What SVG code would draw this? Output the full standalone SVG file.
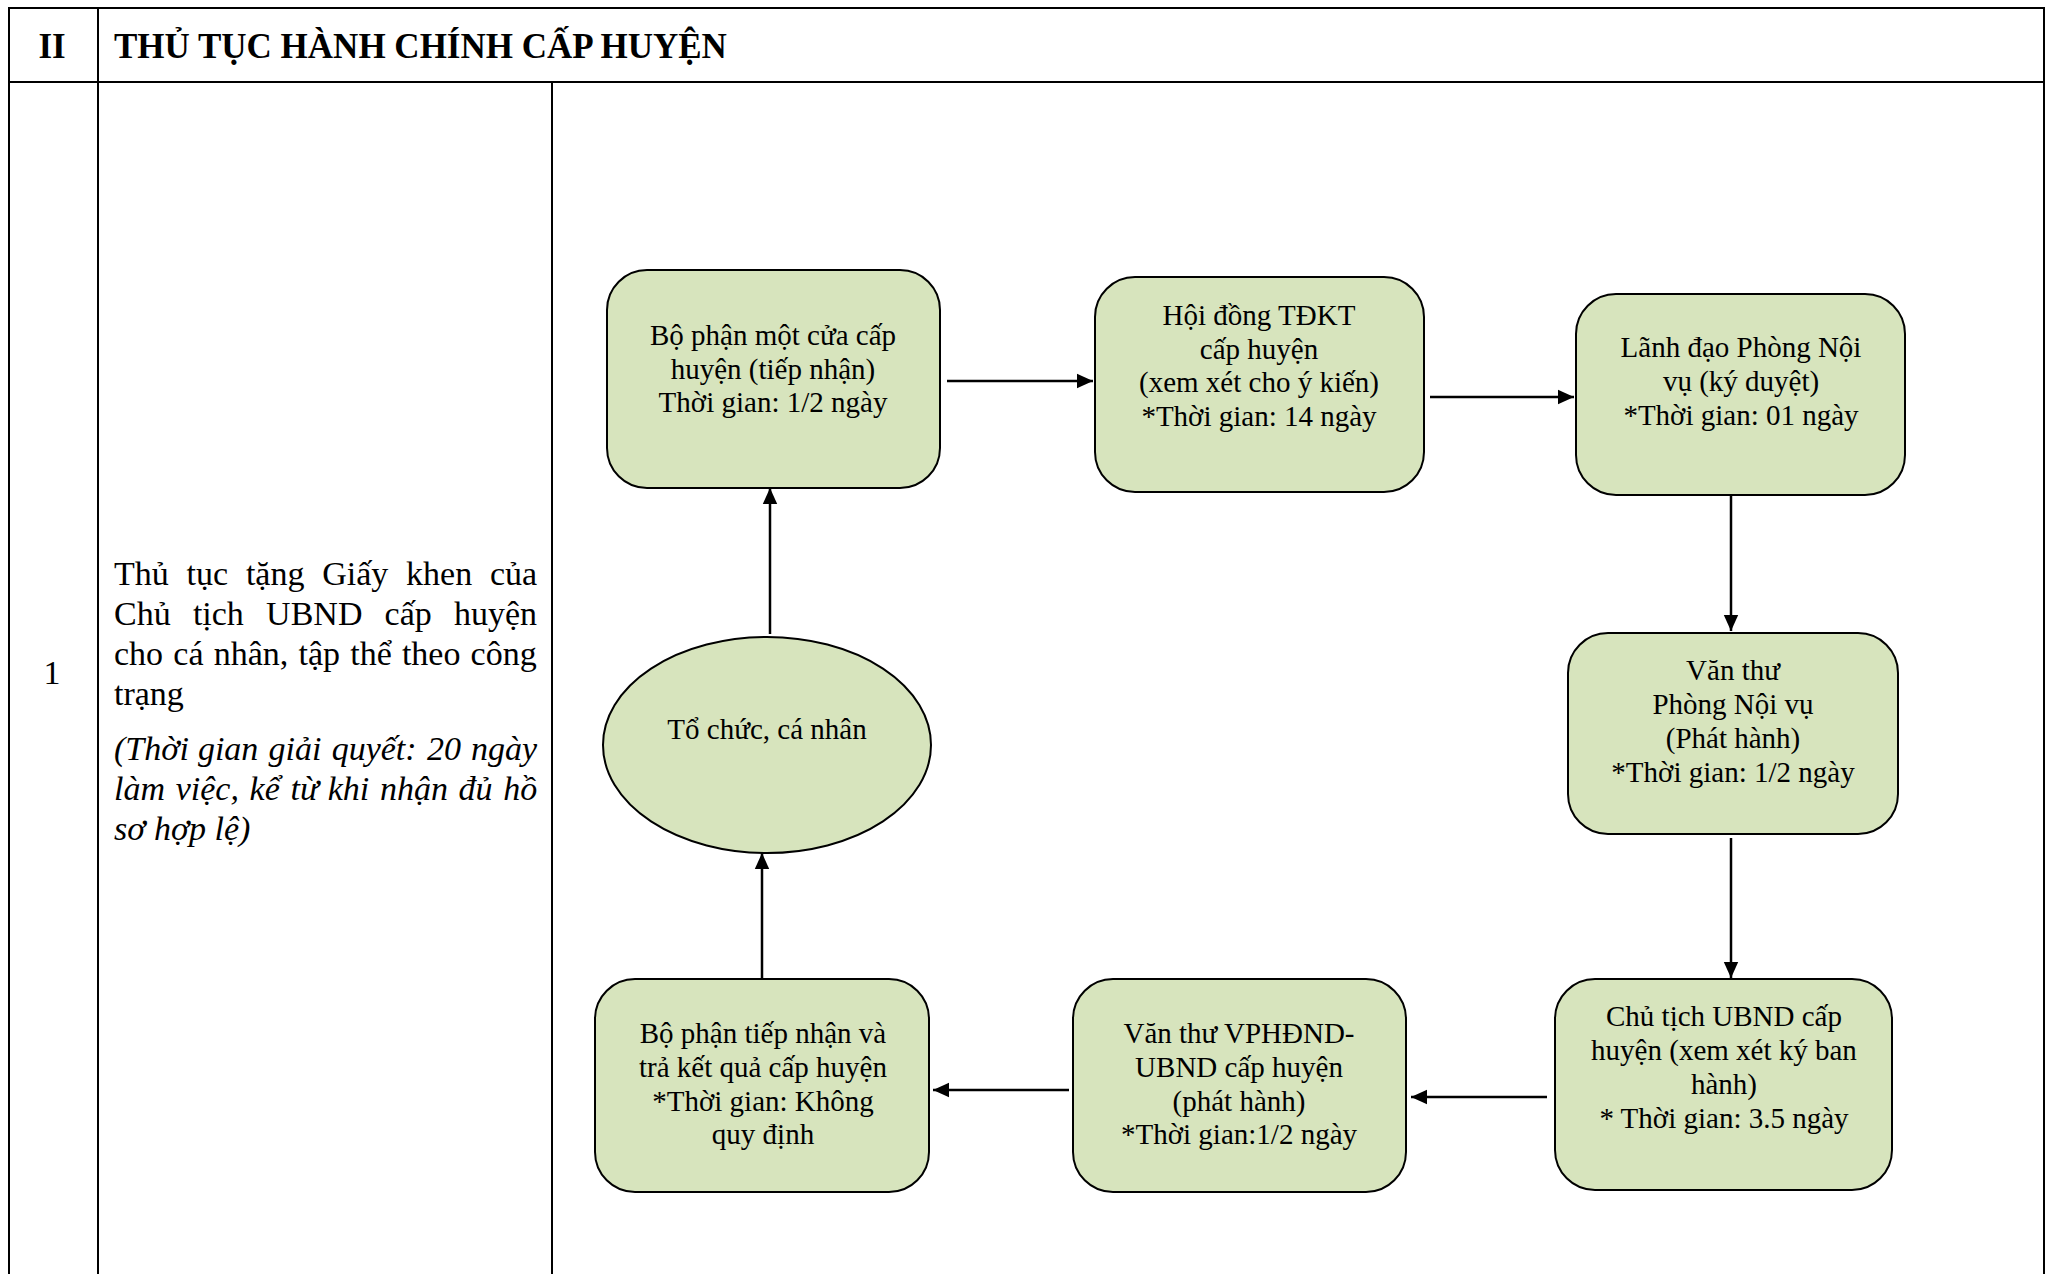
<svg xmlns="http://www.w3.org/2000/svg" width="2052" height="1274" viewBox="0 0 2052 1274">
<defs>
<style>
.t{font-family:"Liberation Serif","Times New Roman",serif;fill:#000}
.h{font-size:35px;font-weight:bold}
.l{font-size:34px}
.li{font-size:34px;font-style:italic}
.n{font-size:29px;text-anchor:middle}
.box{fill:#d7e4bd;stroke:#000;stroke-width:2}
.grid{stroke:#000;stroke-width:2;fill:none}
.c{stroke:#000;stroke-width:2.5;fill:none;marker-end:url(#ah)}
</style>
<marker id="ah" viewBox="0 0 10 10" refX="10" refY="5" markerWidth="6.4" markerHeight="6.4" orient="auto" markerUnits="strokeWidth">
<path d="M0,0.5 L10,5 L0,9.5 z" fill="#000"/>
</marker>
</defs>
<rect width="2052" height="1274" fill="#fff"/>
<g id="table">
<path class="grid" d="M9,1274 V8 H2044 V1274 M9,82 H2044 M98,8 V1274 M552,82 V1274"/>
<text class="t h" x="52" y="58" text-anchor="middle">II</text>
<text class="t h" x="114" y="58">THỦ TỤC HÀNH CHÍNH CẤP HUYỆN</text>
<text class="t l" x="52" y="684" text-anchor="middle">1</text>
<text class="t l" y="585"><tspan x="114">Thủ</tspan><tspan x="186.6">tục</tspan><tspan x="245.9">tặng</tspan><tspan x="322.2">Giấy</tspan><tspan x="406.1">khen</tspan><tspan x="490">của</tspan></text>
<text class="t l" y="625"><tspan x="114">Chủ</tspan><tspan x="192.9">tịch</tspan><tspan x="266.1">UBND</tspan><tspan x="384.6">cấp</tspan><tspan x="454">huyện</tspan></text>
<text class="t l" y="665"><tspan x="114">cho</tspan><tspan x="173.3">cá</tspan><tspan x="213.7">nhân,</tspan><tspan x="298.5">tập</tspan><tspan x="350.2">thể</tspan><tspan x="401.9">theo</tspan><tspan x="470.6">công</tspan></text>
<text class="t l" x="114" y="705">trạng</text>
<text class="t li" y="760"><tspan x="114">(Thời</tspan><tspan x="197.9">gian</tspan><tspan x="268.6">giải</tspan><tspan x="331.7">quyết:</tspan><tspan x="426.9">20</tspan><tspan x="471.1">ngày</tspan></text>
<text class="t li" y="800"><tspan x="114">làm</tspan><tspan x="175.7">việc,</tspan><tspan x="249.6">kể</tspan><tspan x="290.5">từ</tspan><tspan x="327.7">khi</tspan><tspan x="379.9">nhận</tspan><tspan x="458.6">đủ</tspan><tspan x="503.3">hồ</tspan></text>
<text class="t li" x="114" y="840">sơ hợp lệ)</text>
</g>
<g id="connectors">
<line class="c" x1="947" y1="381" x2="1093" y2="381"/>
<line class="c" x1="1430" y1="397" x2="1574" y2="397"/>
<line class="c" x1="1731" y1="495" x2="1731" y2="631"/>
<line class="c" x1="1731" y1="838" x2="1731" y2="978"/>
<line class="c" x1="1547" y1="1097" x2="1411" y2="1097"/>
<line class="c" x1="1069" y1="1090" x2="933" y2="1090"/>
<line class="c" x1="762" y1="978" x2="762" y2="853"/>
<line class="c" x1="770" y1="634" x2="770" y2="488"/>
</g>
<g id="nodeA">
<rect class="box" x="607" y="270" width="333" height="218" rx="40"/>
<text class="t n" x="773" y="345">Bộ phận một cửa cấp</text>
<text class="t n" x="773" y="379">huyện (tiếp nhận)</text>
<text class="t n" x="773" y="412">Thời gian: 1/2 ngày</text>
</g>
<g id="nodeB">
<rect class="box" x="1095" y="277" width="329" height="215" rx="40"/>
<text class="t n" x="1259" y="325">Hội đồng TĐKT</text>
<text class="t n" x="1259" y="359">cấp huyện</text>
<text class="t n" x="1259" y="392">(xem xét cho ý kiến)</text>
<text class="t n" x="1259" y="426">*Thời gian: 14 ngày</text>
</g>
<g id="nodeC">
<rect class="box" x="1576" y="294" width="329" height="201" rx="40"/>
<text class="t n" x="1741" y="357">Lãnh đạo Phòng Nội</text>
<text class="t n" x="1741" y="391">vụ (ký duyệt)</text>
<text class="t n" x="1741" y="425">*Thời gian: 01 ngày</text>
</g>
<g id="nodeD">
<rect class="box" x="1568" y="633" width="330" height="201" rx="40"/>
<text class="t n" x="1733" y="680">Văn thư</text>
<text class="t n" x="1733" y="714">Phòng Nội vụ</text>
<text class="t n" x="1733" y="748">(Phát hành)</text>
<text class="t n" x="1733" y="782">*Thời gian: 1/2 ngày</text>
</g>
<g id="nodeE">
<rect class="box" x="1555" y="979" width="337" height="211" rx="40"/>
<text class="t n" x="1724" y="1026">Chủ tịch UBND cấp</text>
<text class="t n" x="1724" y="1060">huyện (xem xét ký ban</text>
<text class="t n" x="1724" y="1094">hành)</text>
<text class="t n" x="1724" y="1128">* Thời gian: 3.5 ngày</text>
</g>
<g id="nodeF">
<rect class="box" x="1073" y="979" width="333" height="213" rx="40"/>
<text class="t n" x="1239" y="1043">Văn thư VPHĐND-</text>
<text class="t n" x="1239" y="1077">UBND cấp huyện</text>
<text class="t n" x="1239" y="1111">(phát hành)</text>
<text class="t n" x="1239" y="1144">*Thời gian:1/2 ngày</text>
</g>
<g id="nodeG">
<rect class="box" x="595" y="979" width="334" height="213" rx="40"/>
<text class="t n" x="763" y="1043">Bộ phận tiếp nhận và</text>
<text class="t n" x="763" y="1077">trả kết quả cấp huyện</text>
<text class="t n" x="763" y="1111">*Thời gian: Không</text>
<text class="t n" x="763" y="1144">quy định</text>
</g>
<g id="nodeH">
<ellipse class="box" cx="767" cy="745" rx="164" ry="108"/>
<text class="t n" x="767" y="739">Tổ chức, cá nhân</text>
</g>
</svg>
